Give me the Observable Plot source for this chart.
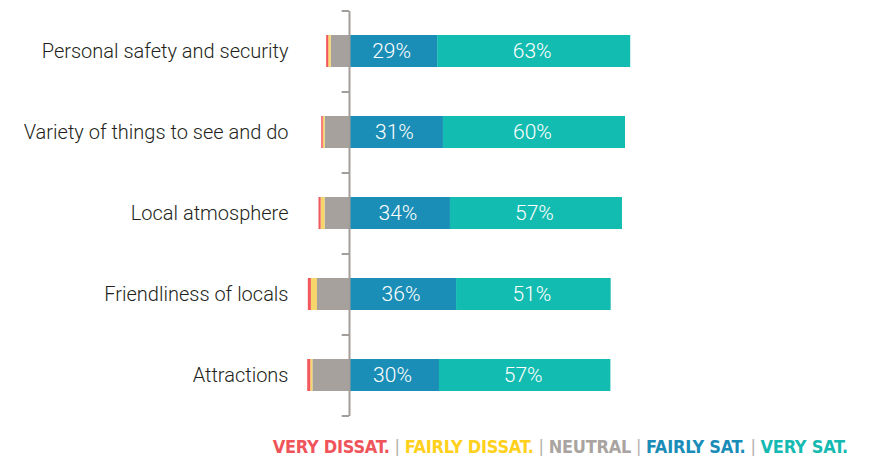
<!DOCTYPE html>
<html>
<head>
<meta charset="utf-8">
<script src="https://cdn.jsdelivr.net/npm/d3@7"></script>
<script src="https://cdn.jsdelivr.net/npm/@observablehq/plot@0.6"></script>
<style>
  html, body { margin: 0; padding: 0; background: #fff; }
  #chart { width: 870px; }
  #legend {
    width: 870px; box-sizing: border-box; text-align: right; padding-right: 22px;
    font-family: "Liberation Sans Narrow", "DejaVu Sans Condensed", sans-serif;
    font-weight: bold; font-size: 18px; line-height: 24px; margin-top: 3px;
    letter-spacing: -0.25px;
    white-space: nowrap;
  }
  #legend .sep { color: #b5b0ac; font-weight: normal; }
</style>
</head>
<body>
<div id="chart"></div>
<div id="legend"></div>
<script>
const categories = ["Personal safety and security", "Variety of things to see and do", "Local atmosphere", "Friendliness of locals", "Attractions"];
// values (percent)
const veryDissat   = [0.7, 0.5, 0.7, 1.0, 1.0];
const fairlyDissat = [0.8, 0.6, 1.3, 2.0, 0.7];
const neutral      = [6, 8, 8, 10.5, 12];
const fairlySat    = [28.9, 30.8, 33.1, 35.1, 29.5];
const verySat      = [63.3, 59.7, 56.4, 50.7, 56.2];
// printed labels on the bars
const fairlySatLabels = ["29%", "31%", "34%", "36%", "30%"];
const verySatLabels   = ["63%", "60%", "57%", "51%", "57%"];

const seriesNames = ["NEUTRAL", "FAIRLY DISSAT.", "VERY DISSAT.", "FAIRLY SAT.", "VERY SAT."];
const legendOrder = ["VERY DISSAT.", "FAIRLY DISSAT.", "NEUTRAL", "FAIRLY SAT.", "VERY SAT."];
const barColors = {"VERY DISSAT.": "#f2595f", "FAIRLY DISSAT.": "#f6d56a", "NEUTRAL": "#a6a19d", "FAIRLY SAT.": "#1a8eb6", "VERY SAT.": "#13bcb1"};
const legendColors = {"VERY DISSAT.": "#f0545b", "FAIRLY DISSAT.": "#ffd11c", "NEUTRAL": "#a9a4a0", "FAIRLY SAT.": "#1a8cb8", "VERY SAT.": "#14bab1"};

const seriesValues = {"NEUTRAL": neutral, "FAIRLY DISSAT.": fairlyDissat, "VERY DISSAT.": veryDissat, "FAIRLY SAT.": fairlySat, "VERY SAT.": verySat};
const seriesLabels = {"FAIRLY SAT.": fairlySatLabels, "VERY SAT.": verySatLabels};
const negative = new Set(["NEUTRAL", "FAIRLY DISSAT.", "VERY DISSAT."]);

const rows = [];
for (const s of seriesNames) {
  categories.forEach((c, i) => {
    const v = seriesValues[s][i];
    rows.push({category: c, series: s, value: negative.has(s) ? -v : v, label: seriesLabels[s] ? seriesLabels[s][i] : ""});
  });
}

const chartH = 432, mTop = 11, mBottom = 16;
const step = (chartH - mTop - mBottom) / categories.length;
const boundaries = [...categories.map(c => ({c, dy: -step / 2})), {c: categories[categories.length - 1], dy: step / 2}];

const chart = Plot.plot({
  width: 870,
  height: chartH,
  marginTop: mTop,
  marginBottom: mBottom,
  marginLeft: 291,
  marginRight: 216,
  x: {domain: [0, 100], range: [349, 654], axis: null},
  y: {domain: categories, paddingInner: 0.6, paddingOuter: 0.3, label: null},
  style: {fontFamily: "Roboto, sans-serif", background: "white"},
  marks: [
    Plot.barX(rows, Plot.stackX({x: "value", y: "category", z: "series", fill: d => barColors[d.series]})),
    Plot.text(rows, Plot.stackX({
      filter: d => !negative.has(d.series),
      x: "value", y: "category", z: "series",
      text: "label", dx: -2,
      fill: "white", fontSize: 21, fontWeight: 300
    })),
    Plot.ruleX([0], {stroke: "#a39e9a", strokeWidth: 2}),
    ...boundaries.map(b => Plot.ruleY([b.c], {y: d => d, x1: -2.4, x2: 0, dy: b.dy, stroke: "#a39e9a", strokeWidth: 2})),
    Plot.axisY({anchor: "left", tickSize: 0, tickPadding: 3, fontSize: 20, fontWeight: 300, fill: "#231f20", label: null})
  ]
});
document.getElementById("chart").append(chart);

const legend = document.getElementById("legend");
legendOrder.forEach((s, i) => {
  if (i > 0) {
    const sep = document.createElement("span");
    sep.className = "sep";
    sep.textContent = " | ";
    legend.append(sep);
  }
  const sp = document.createElement("span");
  sp.style.color = legendColors[s];
  sp.textContent = s;
  legend.append(sp);
});
</script>
</body>
</html>
